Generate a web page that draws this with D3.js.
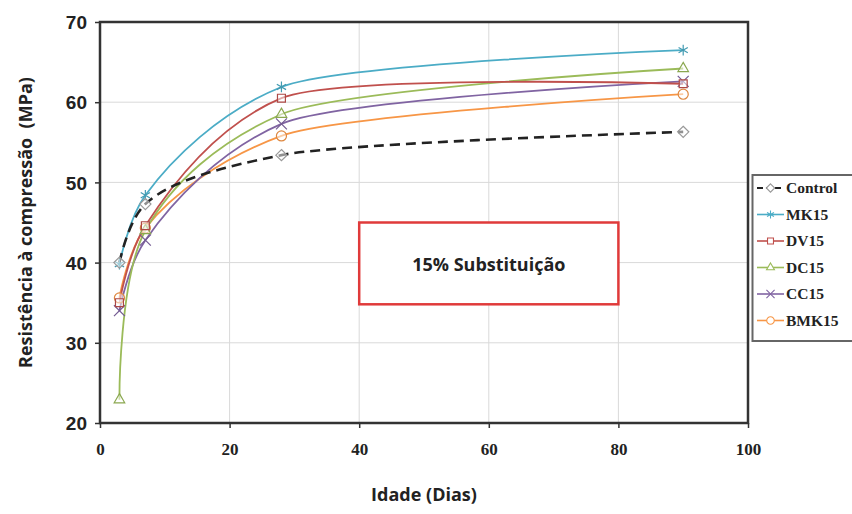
<!DOCTYPE html>
<html>
<head>
<meta charset="utf-8">
<script src="https://cdn.jsdelivr.net/npm/d3@7"></script>
<style>
  body { margin: 0; background: #fff; }
  svg { display: block; }
</style>
</head>
<body>
<div id="chart"></div>
<script>
// data
var days = [3, 7, 28, 90];
var seriesNames = ["Control", "MK15", "DV15", "DC15", "CC15", "BMK15"];
var control = [40.0, 47.3, 53.4, 56.3];
var mk15    = [39.8, 48.4, 61.9, 66.5];
var dv15    = [35.0, 44.6, 60.5, 62.3];
var dc15    = [22.9, 44.0, 58.5, 64.2];
var cc15    = [34.0, 42.8, 57.3, 62.6];
var bmk15   = [35.6, 44.3, 55.8, 61.0];
var xTicks = [0, 20, 40, 60, 80, 100];
var yTicks = [20, 30, 40, 50, 60, 70];

var seriesValues = [control, mk15, dv15, dc15, cc15, bmk15];
var colors = ["#222222", "#4bacc6", "#c0504d", "#9bbb59", "#8064a2", "#f79646"];
var symbols = ["diamond", "star", "square", "triangle", "cross", "circle"];

var width = 852, height = 514;
var margin = {top: 22, left: 100, right: 104, bottom: 91};

var svg = d3.select("#chart").append("svg")
    .attr("width", width)
    .attr("height", height);

var x = d3.scaleLinear().domain([0, 100]).range([margin.left, width - margin.right]);
var y = d3.scaleLinear().domain([20, 70]).range([height - margin.bottom, margin.top]);

// grid
svg.append("g")
   .selectAll("line.vg")
   .data(xTicks.slice(1, -1))
   .enter().append("line")
   .attr("x1", function(d) { return x(d); })
   .attr("x2", function(d) { return x(d); })
   .attr("y1", y(20))
   .attr("y2", y(70))
   .style("stroke", "#d9d9d9")
   .style("stroke-width", 1);
svg.append("g")
   .selectAll("line.hg")
   .data(yTicks.slice(1, -1))
   .enter().append("line")
   .attr("x1", x(0))
   .attr("x2", x(100))
   .attr("y1", function(d) { return y(d); })
   .attr("y2", function(d) { return y(d); })
   .style("stroke", "#d9d9d9")
   .style("stroke-width", 1);

// frame
svg.append("rect")
   .attr("x", x(0))
   .attr("y", y(70))
   .attr("width", x(100) - x(0))
   .attr("height", y(20) - y(70))
   .style("fill", "none")
   .style("stroke", "#333")
   .style("stroke-width", 2.5);

// axes
var xAxis = svg.append("g")
    .attr("transform", "translate(0," + y(20) + ")")
    .call(d3.axisBottom(x).tickValues(xTicks).tickSize(5).tickPadding(15));
var yAxis = svg.append("g")
    .attr("transform", "translate(" + x(0) + ",0)")
    .call(d3.axisLeft(y).tickValues(yTicks).tickSize(5).tickPadding(8));

xAxis.select(".domain").remove();
yAxis.select(".domain").remove();
xAxis.selectAll("line").style("stroke", "#333").style("stroke-width", 1.5);
yAxis.selectAll("line").style("stroke", "#333").style("stroke-width", 1.5);
xAxis.selectAll("text")
     .style("font-family", "Liberation Serif, serif")
     .style("font-weight", "bold")
     .style("font-size", "17px")
     .style("fill", "#222");
yAxis.selectAll("text")
     .style("font-family", "Liberation Sans, Arial, sans-serif")
     .style("font-weight", "bold")
     .style("font-size", "19px")
     .style("fill", "#222")
     .attr("dy", "0.35em");

/**
 * Centripetal catmull-rom, same maths as d3.curveCatmullRom, but the handle
 * that leaves into a long segment gets shortened so it does not bulge.
 */
function smoothPath(pts) {
    var p = d3.path();
    function dist(a, b) { return Math.hypot(b[0] - a[0], b[1] - a[1]); }
    p.moveTo(pts[0][0], pts[0][1]);
    for (var i = 0; i < pts.length - 1; i++) {
        var P0 = pts[i - 1], P1 = pts[i], P2 = pts[i + 1], P3 = pts[i + 2];
        var l12_2a = dist(P1, P2), l12_a = Math.sqrt(l12_2a);
        var k = Math.min(1, 250 / l12_2a);
        var c1 = P1.slice(), c2 = P2.slice();
        if (P0) {
            var l01_2a = dist(P0, P1), l01_a = Math.sqrt(l01_2a);
            var a = 2 * l01_2a + 3 * l01_a * l12_a + l12_2a,
                n = 3 * l01_a * (l01_a + l12_a);
            c1 = [0, 1].map(function(j) {
                var v = (P1[j] * a - P0[j] * l12_2a + P2[j] * l01_2a) / n;
                return P1[j] + k * (v - P1[j]);
            });
        }
        if (P3) {
            var l23_2a = dist(P2, P3), l23_a = Math.sqrt(l23_2a);
            var b = 2 * l23_2a + 3 * l23_a * l12_a + l12_2a,
                m = 3 * l23_a * (l23_a + l12_a);
            c2 = [0, 1].map(function(j) {
                return (P2[j] * b + P1[j] * l23_2a - P3[j] * l12_2a) / m;
            });
        }
        p.bezierCurveTo(c1[0], c1[1], c2[0], c2[1], P2[0], P2[1]);
    }
    return p.toString();
}

var data = seriesNames.map(function(name, i) {
    return {
        name: name,
        color: colors[i],
        symbol: symbols[i],
        points: days.map(function(d, j) { return {day: d, value: seriesValues[i][j]}; })
    };
});

function symbolPath(kind, size) {
    var types = {
        diamond: d3.symbolDiamond2,
        star: d3.symbolAsterisk,
        square: d3.symbolSquare2,
        triangle: d3.symbolTriangle2,
        cross: d3.symbolTimes,
        circle: d3.symbolCircle
    };
    return d3.symbol().type(types[kind]).size(size)();
}

var drawOrder = [5, 4, 3, 2, 1, 0];
drawOrder.forEach(function(i) {
    var s = data[i];
    svg.append("path")
       .attr("d", smoothPath(s.points.map(function(d) { return [x(d.day), y(d.value)]; })))
       .style("fill", "none")
       .style("stroke", s.color)
       .style("stroke-width", s.name === "Control" ? 2.6 : 1.8)
       .style("stroke-dasharray", s.name === "Control" ? "10,6" : null);
});
drawOrder.forEach(function(i) {
    var s = data[i];
    svg.append("g")
       .selectAll("path")
       .data(s.points)
       .enter().append("path")
       .attr("transform", function(d) { return "translate(" + x(d.day) + "," + y(d.value) + ")"; })
       .attr("d", symbolPath(s.symbol, 80))
       .style("fill", s.symbol === "star" || s.symbol === "cross" ? "none" : "rgba(255,255,255,0.5)")
       .style("stroke", s.name === "Control" ? "#999" : d3.color(s.color).darker(0.3))
       .style("stroke-width", 1.2);
});

// annotation box
svg.append("rect")
   .attr("x", x(40))
   .attr("y", y(45.0))
   .attr("width", x(80) - x(40))
   .attr("height", y(34.8) - y(45.0))
   .style("fill", "#fff")
   .style("stroke", "#e03a3a")
   .style("stroke-width", 2.5);
svg.append("text")
   .attr("x", (x(40) + x(80)) / 2)
   .attr("y", y(39.8))
   .attr("text-anchor", "middle")
   .attr("dy", "0.35em")
   .style("font-family", "Open Sans, sans-serif")
   .style("font-weight", "bold")
   .style("font-size", "18px")
   .style("fill", "#222")
   .text("15% Substituição");

// legend
var legend = svg.append("g").attr("transform", "translate(752,175)");
legend.append("rect")
      .attr("x", 0.5)
      .attr("y", 0)
      .attr("width", 104)
      .attr("height", 166)
      .style("fill", "#fff")
      .style("stroke", "#666")
      .style("stroke-width", 2);
data.forEach(function(s, i) {
    var row = legend.append("g").attr("transform", "translate(0," + (13 + i * 26.5) + ")");
    row.append("line")
       .attr("x1", 5).attr("x2", 32)
       .attr("y1", 0).attr("y2", 0)
       .style("stroke", s.color)
       .style("stroke-width", s.name === "Control" ? 2 : 1.6)
       .style("stroke-dasharray", s.name === "Control" ? "6,3" : null);
    row.append("path")
       .attr("transform", "translate(18.5,0)")
       .attr("d", symbolPath(s.symbol, 45))
       .style("fill", s.symbol === "star" || s.symbol === "cross" ? "none" : "#fff")
       .style("stroke", s.name === "Control" ? "#999" : s.color)
       .style("stroke-width", 1.1);
    row.append("text")
       .attr("x", 34)
       .attr("dy", "0.35em")
       .style("font-family", "Liberation Serif, serif")
       .style("font-weight", "bold")
       .style("font-size", "15.5px")
       .style("fill", "#222")
       .text(s.name);
});

// axis titles
svg.append("text")
   .attr("x", (x(0) + x(100)) / 2)
   .attr("y", 501)
   .attr("text-anchor", "middle")
   .style("font-family", "Open Sans, sans-serif")
   .style("font-weight", "bold")
   .style("font-size", "18px")
   .style("fill", "#222")
   .text("Idade (Dias)");
svg.append("text")
   .attr("transform", "translate(32," + ((y(20) + y(70)) / 2) + ") rotate(-90)")
   .attr("text-anchor", "middle")
   .style("font-family", "Open Sans, sans-serif")
   .style("font-weight", "bold")
   .style("font-size", "18px")
   .style("fill", "#222")
   .style("white-space", "pre")
   .text("Resistência à compressão  (MPa)");
</script>
</body>
</html>
